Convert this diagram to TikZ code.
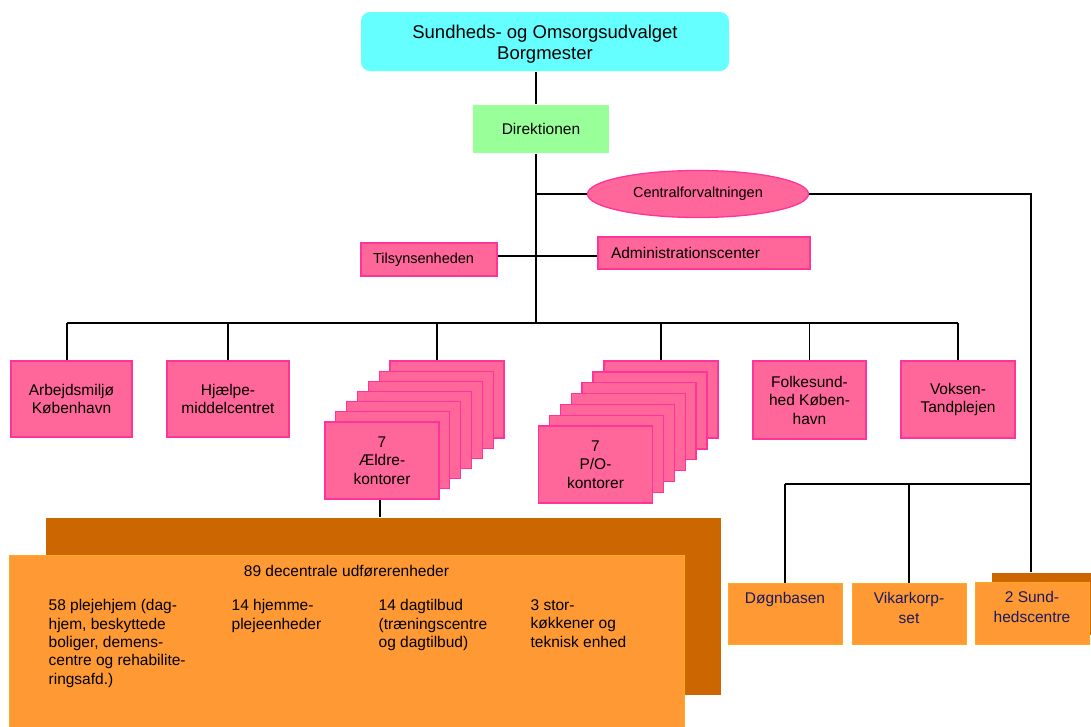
\documentclass[tikz,border=0pt]{standalone}
\usepackage{fontspec}
\setmainfont{Liberation Sans}
\usetikzlibrary{shapes.geometric}

\definecolor{cyanfill}{HTML}{66FFFF}
\definecolor{greenfill}{HTML}{99FF99}
\definecolor{pinkfill}{HTML}{FF6699}
\definecolor{pinkedge}{HTML}{FF3399}
\definecolor{orangefill}{HTML}{FF9933}
\definecolor{orangeedge}{HTML}{FFAA22}
\definecolor{darkorange}{HTML}{CC6600}
\definecolor{navytext}{HTML}{1A1A5E}

\begin{document}
\begin{tikzpicture}[x = 1pt, y = -1pt, line width = 1.3pt,
  every node/.style = {align = center, inner sep = 0pt, font = \fontsize{15.5}{18.5}\selectfont},
  pinkbox/.style = {draw = pinkedge, fill = pinkfill, line width = 1.3pt, minimum width = 114pt, minimum height = 77pt},
  sidebox/.style = {draw = pinkedge, fill = pinkfill, line width = 1.3pt, align = left},
  orangebox/.style = {draw = orangeedge, fill = orangefill, line width = 1pt, minimum width = 114pt, minimum height = 61pt},
  orangetext/.style = {anchor = north, yshift = -9pt, text = navytext, font = \fontsize{15.5}{20}\selectfont},
  smalltext/.style = {font = \fontsize{14.5}{17}\selectfont}]

  \useasboundingbox (0, 0) rectangle (1091, 726);
  \clip (0, 0) rectangle (1091, 726);

  \node [rounded corners = 9pt, fill = cyanfill, minimum width = 368pt, minimum height = 59pt,
         label = {[font = \fontsize{18.5}{21}\selectfont, yshift = -3pt]center:Sundheds- og Omsorgsudvalget\\Borgmester}] (udvalg) at (545, 41.5) {};
  \node [fill = greenfill, minimum width = 136pt, minimum height = 48pt] (direk) at (541, 129) {Direktionen};

  \node [ellipse, draw = pinkedge, fill = pinkfill, minimum width = 221pt, minimum height = 47pt, smalltext] (central) at (698, 194) {Centralforvaltningen};
  \node [sidebox, smalltext, minimum height = 33pt, text width = 112pt, inner xsep = 12pt] (tilsyn) at (429, 259.5) {Tilsynsenheden};
  \node [sidebox, minimum height = 32pt, text width = 186pt, inner xsep = 13pt] (adm) at (704, 253) {Administrationscenter};

  \node [pinkbox, minimum width = 121pt, minimum height = 76pt] (arb) at (71.5, 399) {Arbejdsmiljø\\København};
  \node [pinkbox, minimum width = 122pt, minimum height = 76pt] (hjael) at (228, 399) {Hjælpe-\\middelcentret};
  \node [pinkbox, minimum width = 113pt, minimum height = 78pt] (folke) at (809.5, 400) {Folkesund-\\hed Køben-\\havn};
  \node [pinkbox] (voks) at (958, 399.5) {Voksen-\\Tandplejen};

  \foreach \i in {6, 5, ..., 1} {
    \node [pinkbox] (aeld\i) at ({382 + 10.83 * \i}, {460.5 - 10.17 * \i}) {};
    \node [pinkbox] (po\i) at ({595.5 + 10.9 * \i}, {464.5 - 10.83 * \i}) {};
  }
  \node [pinkbox] (aeld0) at (382, 460.5) {7\\Ældre-\\kontorer};
  \node [pinkbox] (po0) at (595.5, 464.5) {7\\P/O-\\kontorer};

  \node [fill = darkorange, minimum width = 675pt, minimum height = 177pt] (udfback) at (383.5, 606.5) {};
  \node [draw = orangeedge, fill = orangefill, line width = 1pt, minimum width = 675pt, minimum height = 180pt, anchor = north west] (udf) at (9, 555) {};
  \node (udftitel) at (346.5, 571) {89 decentrale udførerenheder};
  \node [anchor = north west, align = left, font = \fontsize{15.5}{18.3}\selectfont] (pleje) at (48, 599) {58 plejehjem (dag-\\hjem, beskyttede\\boliger, demens-\\centre og rehabilite-\\ringsafd.)};
  \node [anchor = north west, align = left, font = \fontsize{15.5}{18.3}\selectfont] (hjemme) at (231, 599) {14 hjemme-\\plejeenheder};
  \node [anchor = north west, align = left, font = \fontsize{15.5}{18.3}\selectfont] (dagtil) at (378, 599) {14 dagtilbud\\(træningscentre\\og dagtilbud)};
  \node [anchor = north west, align = left, font = \fontsize{15.5}{18.3}\selectfont] (koekken) at (530, 599) {3 stor-\\køkkener og\\teknisk enhed};

  \node [fill = darkorange, minimum width = 104pt, minimum height = 62pt, anchor = north west] (sundback) at (991, 572) {};
  \node [orangebox, label = {[orangetext]north:Døgnbasen}] (doegn) at (785, 613.5) {};
  \node [orangebox, label = {[orangetext]north:Vikarkorp-\\set}] (vikar) at (909, 613.5) {};
  \node [orangebox, minimum height = 62pt, label = {[orangetext]north:2 Sund-\\hedscentre}] (sund) at (1032, 613) {};

  \coordinate (trunk) at (536, 323);
  \coordinate (tvaers) at (536, 256);
  \coordinate (hjoerne) at (1031, 194);
  \coordinate (hbus) at (1031, 484);

  \draw (udvalg.south -| trunk) -- (direk.north -| trunk);
  \draw (direk.south -| trunk) -- (trunk);
  \draw (trunk |- central.west) -- (central.west);
  \draw (tilsyn.east |- tvaers) -- (adm.west |- tvaers);

  \draw ([xshift = -4.5pt]arb.north |- trunk) -- (voks.north |- trunk);
  \draw ([xshift = -4.5pt]arb.north) -- ([xshift = -4.5pt]arb.north |- trunk);
  \draw ([xshift = -10pt]aeld6.north) -- ([xshift = -10pt]aeld6.north |- trunk);
  \foreach \b in {hjael, po6, folke, voks}
    \draw (\b.north) -- (\b.north |- trunk);
  \draw ([xshift = -2pt]aeld0.south) -- ([xshift = -2pt]aeld0.south |- udfback.north);

  \draw (central.east) -- (hjoerne) -- (hjoerne |- sundback.north);
  \draw (doegn.north |- hbus) -- (hbus);
  \draw (doegn.north) -- (doegn.north |- hbus);
  \draw (vikar.north) -- (vikar.north |- hbus);

\end{tikzpicture}
\end{document}
